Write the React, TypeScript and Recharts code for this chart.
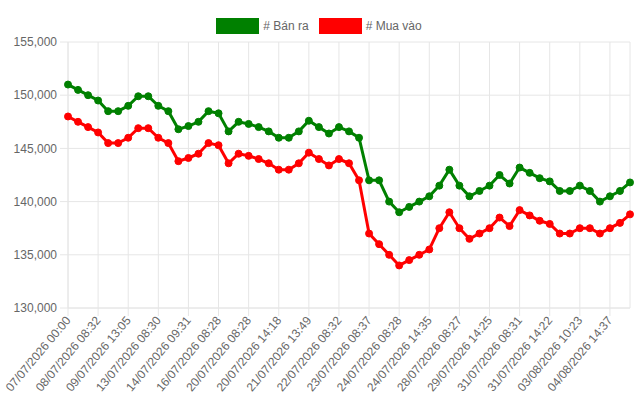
import React from 'react';
import { LineChart, Line, XAxis, YAxis, CartesianGrid } from 'recharts';

const tickLabels = [
  '07/07/2026 00:00',
  '08/07/2026 08:32',
  '09/07/2026 13:05',
  '13/07/2026 08:30',
  '14/07/2026 09:31',
  '16/07/2026 08:28',
  '20/07/2026 08:28',
  '20/07/2026 14:18',
  '21/07/2026 13:49',
  '22/07/2026 08:32',
  '23/07/2026 08:37',
  '24/07/2026 08:28',
  '24/07/2026 14:35',
  '28/07/2026 08:27',
  '29/07/2026 14:25',
  '31/07/2026 08:31',
  '31/07/2026 14:22',
  '03/08/2026 10:23',
  '04/08/2026 14:37',
];

const sellPrices = [
  151000, 150500, 150000, 149500, 148500, 148500, 149000, 149900, 149900, 149000,
  148500, 146800, 147100, 147500, 148500, 148300, 146600, 147500, 147300, 147000,
  146600, 146000, 146000, 146600, 147600, 147000, 146400, 147000, 146600, 146000,
  142000, 142000, 140000, 139000, 139500, 140000, 140500, 141500, 143000, 141500,
  140500, 141000, 141500, 142500, 141700, 143200, 142700, 142200, 141900, 141000,
  141000, 141500, 141000, 140000, 140500, 141000, 141800,
];

const buyPrices = [
  148000, 147500, 147000, 146500, 145500, 145500, 146000, 146900, 146900, 146000,
  145500, 143800, 144100, 144500, 145500, 145300, 143600, 144500, 144300, 144000,
  143600, 143000, 143000, 143600, 144600, 144000, 143400, 144000, 143600, 142000,
  137000, 136000, 135000, 134000, 134500, 135000, 135500, 137500, 139000, 137500,
  136500, 137000, 137500, 138500, 137700, 139200, 138700, 138200, 137900, 137000,
  137000, 137500, 137500, 137000, 137500, 138000, 138800,
];

const yTicks = [130000, 135000, 140000, 145000, 150000, 155000];
const SELL_NAME = '# Bán ra';
const BUY_NAME = '# Mua vào';
const SELL_COLOR = '#008000';
const BUY_COLOR = '#ff0000';
const LABEL_STEP = 3;

const data = sellPrices.map((s, i) => ({ idx: i, sell: s, buy: buyPrices[i] }));
const xTicks = tickLabels.map((_, i) => i * LABEL_STEP);

const FONT = '"Liberation Sans", Arial, Helvetica, sans-serif';
const GRID = '#e6e6e6';

const XTick = (props: any) => {
  const { x, y, payload } = props;
  const label = tickLabels[Math.round(payload.value / LABEL_STEP)];
  return (
    <text
      x={0}
      y={0}
      dy="0.35em"
      transform={`translate(${x},${y}) rotate(-50)`}
      textAnchor="end"
      fill="#666"
      fontSize={12}
      fontFamily={FONT}
    >
      {label}
    </text>
  );
};

const LegendItem = ({ color, name }: { color: string; name: string }) => (
  <div style={{ display: 'flex', alignItems: 'center', margin: '0 5px' }}>
    <div style={{ width: 43, height: 16, background: color, marginRight: 4 }} />
    <span style={{ fontSize: 12, color: '#666', fontFamily: FONT }}>{name}</span>
  </div>
);

export default function App() {
  return (
    <div style={{ position: 'absolute', left: 0, top: 0, width: 644, height: 404, background: '#fff' }}>
      <div
        style={{
          position: 'absolute',
          top: 18,
          left: 0,
          width: 638,
          display: 'flex',
          justifyContent: 'center',
          zIndex: 2,
        }}
      >
        <LegendItem color={SELL_COLOR} name={SELL_NAME} />
        <LegendItem color={BUY_COLOR} name={BUY_NAME} />
      </div>
      <LineChart width={644} height={404} data={data} margin={{ top: 42, right: 14, bottom: 0, left: 0 }}>
        <CartesianGrid stroke={GRID} />
        <XAxis
          dataKey="idx"
          type="number"
          domain={[0, sellPrices.length - 1]}
          ticks={xTicks}
          interval={0}
          height={96}
          tickSize={8}
          tickMargin={2}
          tickLine={{ stroke: GRID }}
          axisLine={{ stroke: GRID }}
          tick={<XTick />}
        />
        <YAxis
          type="number"
          domain={[130000, 155000]}
          ticks={yTicks}
          interval={0}
          width={68}
          tickSize={8}
          tickMargin={3}
          tickLine={{ stroke: GRID }}
          axisLine={{ stroke: GRID }}
          tick={{ fill: '#666', fontSize: 12, fontFamily: FONT }}
          tickFormatter={(v: number) => v.toLocaleString('en-US')}
        />
        <Line
          type="linear"
          dataKey="sell"
          name={SELL_NAME}
          stroke={SELL_COLOR}
          strokeWidth={3}
          dot={{ r: 3.5, fill: SELL_COLOR, stroke: SELL_COLOR, strokeWidth: 1 }}
          activeDot={false}
          isAnimationActive={false}
        />
        <Line
          type="linear"
          dataKey="buy"
          name={BUY_NAME}
          stroke={BUY_COLOR}
          strokeWidth={3}
          dot={{ r: 3.5, fill: BUY_COLOR, stroke: BUY_COLOR, strokeWidth: 1 }}
          activeDot={false}
          isAnimationActive={false}
        />
      </LineChart>
    </div>
  );
}
